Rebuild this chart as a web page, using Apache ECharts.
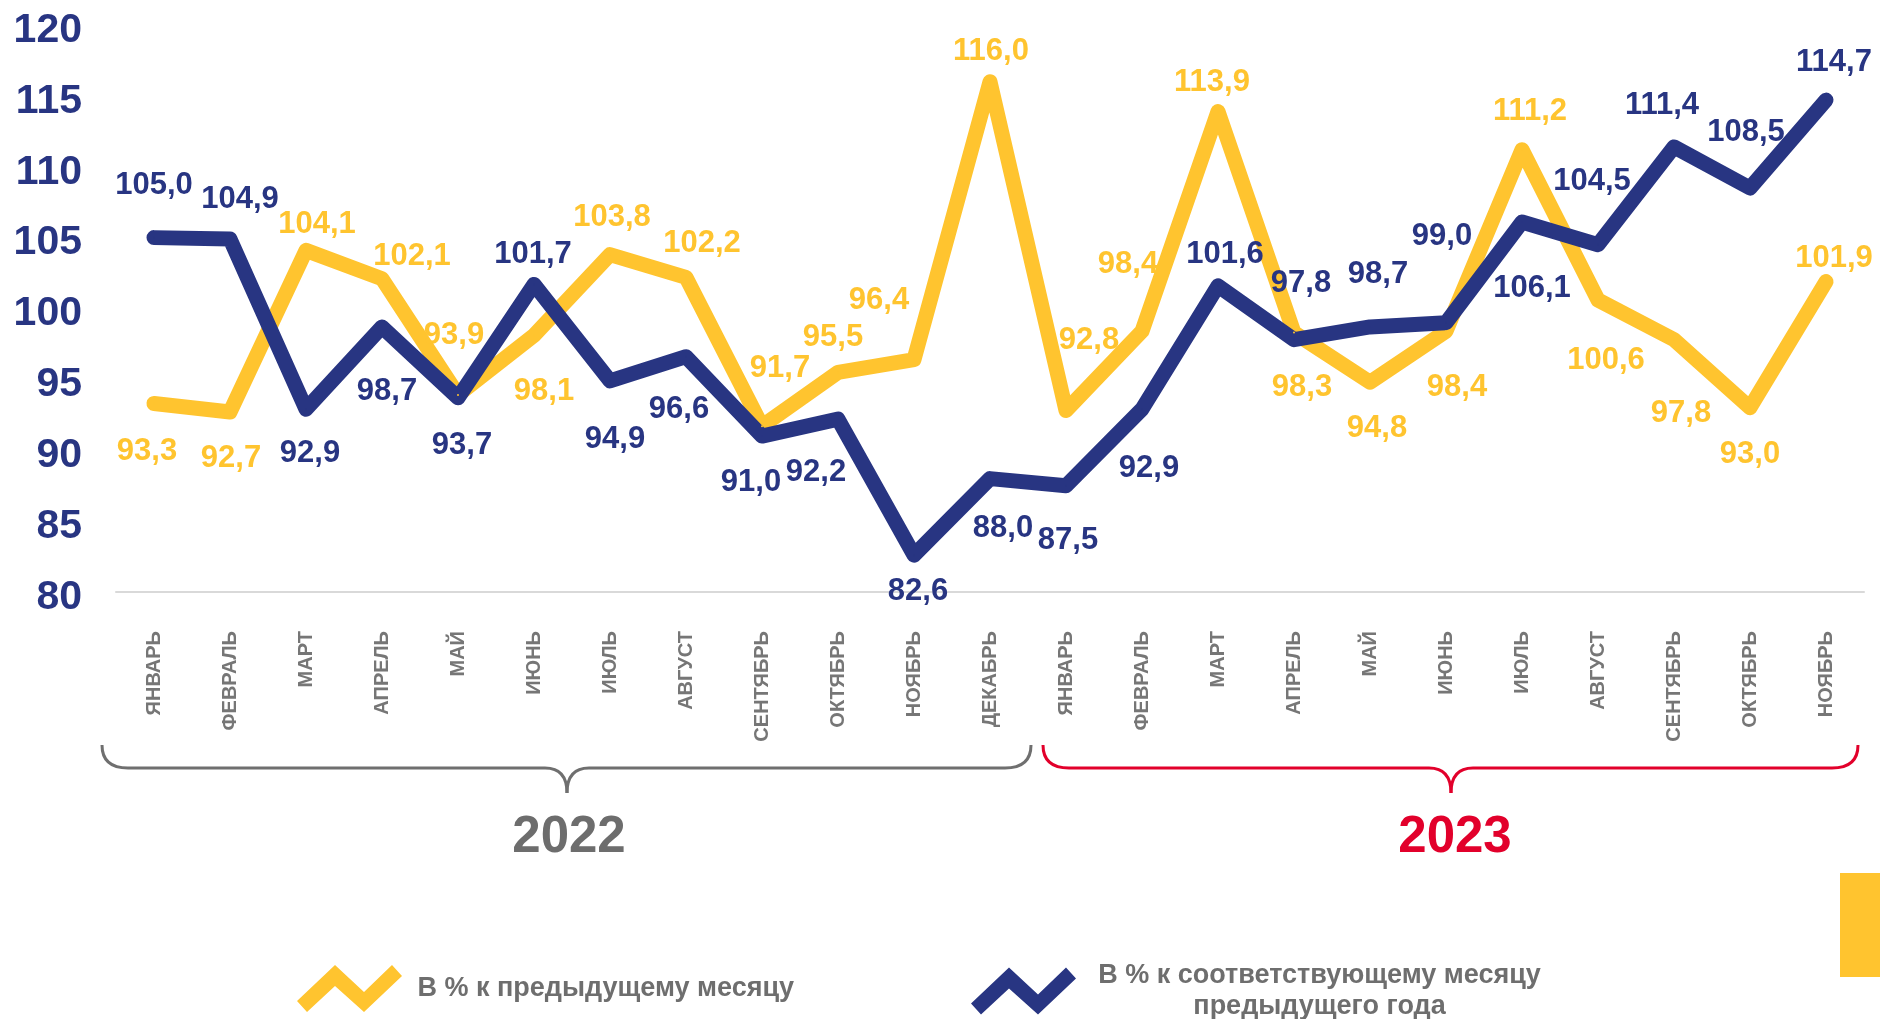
<!DOCTYPE html>
<html>
<head>
<meta charset="utf-8">
<title>Индексы</title>
<script src="https://cdn.jsdelivr.net/npm/echarts@6/dist/echarts.min.js"></script>
<style>
html, body { margin: 0; padding: 0; background: #fff; }
#indexChart { width: 1880px; height: 1019px; }
</style>
</head>
<body>
<div id="indexChart"></div>
<script>
// месяцы 2022-2023
var months = ['ЯНВАРЬ', 'ФЕВРАЛЬ', 'МАРТ', 'АПРЕЛЬ', 'МАЙ', 'ИЮНЬ', 'ИЮЛЬ', 'АВГУСТ', 'СЕНТЯБРЬ', 'ОКТЯБРЬ', 'НОЯБРЬ', 'ДЕКАБРЬ',
    'ЯНВАРЬ', 'ФЕВРАЛЬ', 'МАРТ', 'АПРЕЛЬ', 'МАЙ', 'ИЮНЬ', 'ИЮЛЬ', 'АВГУСТ', 'СЕНТЯБРЬ', 'ОКТЯБРЬ', 'НОЯБРЬ'];
var years = ['2022', '2023'];
var seriesNames = ['В % к предыдущему месяцу', 'В % к соответствующему месяцу предыдущего года'];

// в % к предыдущему месяцу
var prevMonth = [93.3, 92.7, 104.1, 102.1, 93.9, 98.1, 103.8, 102.2, 91.7, 95.5, 96.4, 116.0,
    92.8, 98.4, 113.9, 98.3, 94.8, 98.4, 111.2, 100.6, 97.8, 93.0, 101.9];
// в % к соответствующему месяцу предыдущего года
var prevYear = [105.0, 104.9, 92.9, 98.7, 93.7, 101.7, 94.9, 96.6, 91.0, 92.2, 82.6, 88.0,
    87.5, 92.9, 101.6, 97.8, 98.7, 99.0, 106.1, 104.5, 111.4, 108.5, 114.7];

// сдвиг подписей от точки
var prevMonthLabelOffset = [[-7, 48], [1, 46], [11, -26], [30, -22], [-4, -60], [10, 56], [2, -37], [16, -34], [18, -58], [-5, -35], [-35, -59], [1, -30],
    [23, -70], [-14, -67], [-6, -29], [8, 55], [7, 46], [11, 56], [8, -38], [8, 60], [7, 74], [0, 47], [8, -23]];
var prevYearLabelOffset = [[0, -52], [10, -40], [4, 44], [5, 65], [4, 48], [-1, -30], [5, 59], [-7, 53], [-11, 46], [-22, 53], [4, 36], [13, 50],
    [2, 55], [7, 59], [7, -31], [7, -56], [8, -52], [-4, -86], [10, 66], [-6, -63], [-12, -41], [-4, -56], [8, -38]];

var yellow = '#FFC42F';
var navy = '#283582';
var grey = '#6E6E6E';
var red = '#E2002B';
var font = '"Liberation Sans", Arial, sans-serif';
var zigzag = 'path://M0,36 L38,0 L67,27 L95,0 L105,11 L67,47 L38,21 L10,47 Z';

var indexChart = echarts.init(document.getElementById('indexChart'));

function fmt(v) {
    return v.toFixed(1).replace('.', ',');
}

function buildData(values, offsets) {
    var res = [];
    for (var i = 0; i < values.length; i++) {
        res.push({ value: values[i], label: { offset: offsets[i] } });
    }
    return res;
}

function lineSeries(name, color, values, offsets) {
    return {
        name: name,
        type: 'line',
        data: buildData(values, offsets),
        symbol: 'circle',
        symbolSize: 2,
        showSymbol: true,
        itemStyle: { color: color },
        lineStyle: { color: color, width: 15, cap: 'round', join: 'round' },
        label: {
            show: true,
            position: 'inside',
            color: color,
            fontFamily: font,
            fontWeight: 'bold',
            fontSize: 31,
            formatter: function (p) { return fmt(p.value); }
        },
        emphasis: { disabled: true },
        animation: false
    };
}

// фигурная скобка под месяцами года
function brace(x1, x2, tip, color) {
    var top = 745, mid = 768, low = 793, r = 26, t = 22;
    var st = { stroke: color, lineWidth: 3, fill: null };
    return {
        type: 'group',
        children: [
            { type: 'bezierCurve', shape: { x1: x1, y1: top, cpx1: x1, cpy1: mid, x2: x1 + r, y2: mid }, style: st },
            { type: 'line', shape: { x1: x1 + r, y1: mid, x2: tip - t, y2: mid }, style: st },
            { type: 'bezierCurve', shape: { x1: tip - t, y1: mid, cpx1: tip, cpy1: mid, x2: tip, y2: low }, style: st },
            { type: 'bezierCurve', shape: { x1: tip, y1: low, cpx1: tip, cpy1: mid, x2: tip + t, y2: mid }, style: st },
            { type: 'line', shape: { x1: tip + t, y1: mid, x2: x2 - r, y2: mid }, style: st },
            { type: 'bezierCurve', shape: { x1: x2 - r, y1: mid, cpx1: x2, cpy1: mid, x2: x2, y2: top }, style: st }
        ]
    };
}

function yearText(x, text, color) {
    return {
        type: 'text',
        x: x,
        y: 838,
        style: {
            text: text,
            fill: color,
            font: 'bold 51px ' + font,
            align: 'center',
            verticalAlign: 'middle'
        }
    };
}

var option = {
    animation: false,
    grid: { left: 116, top: 25, width: 1748, height: 567 },
    legend: [{
        data: [seriesNames[0]],
        left: 292,
        top: 960,
        icon: zigzag,
        itemWidth: 106,
        itemHeight: 47,
        selectedMode: false,
        itemStyle: { borderWidth: 0 },
        textStyle: { color: grey, fontFamily: font, fontWeight: 'bold', fontSize: 27, padding: [0, 0, 0, 10] }
    }, {
        data: [seriesNames[1]],
        left: 966,
        top: 957,
        icon: zigzag,
        itemWidth: 106,
        itemHeight: 47,
        selectedMode: false,
        itemStyle: { borderWidth: 0 },
        formatter: function () {
            return '{a|В % к соответствующему месяцу}\n{a|предыдущего года}';
        },
        textStyle: {
            color: grey, fontFamily: font, fontWeight: 'bold', fontSize: 27,
            rich: { a: { width: 476, align: 'center', lineHeight: 31, color: grey, fontFamily: font, fontWeight: 'bold', fontSize: 27 } }
        }
    }],
    xAxis: {
        type: 'category',
        data: months,
        boundaryGap: true,
        axisLine: { lineStyle: { color: '#D9D9D9', width: 2 } },
        axisTick: { show: false },
        axisLabel: {
            interval: 0,
            rotate: 90,
            margin: 39,
            color: '#767676',
            fontFamily: font,
            fontWeight: 'bold',
            fontSize: 20
        }
    },
    yAxis: {
        type: 'value',
        min: 80,
        max: 120,
        interval: 5,
        splitLine: { show: false },
        axisLine: { show: false },
        axisTick: { show: false },
        axisLabel: {
            margin: 34,
            formatter: function (v) { return '{v|' + v + '}'; },
            rich: {
                v: { padding: [11, 0, 0, 0], color: navy, fontFamily: font, fontWeight: 'bold', fontSize: 41 }
            },
            color: navy,
            fontFamily: font,
            fontWeight: 'bold',
            fontSize: 41
        }
    },
    graphic: [
        brace(102, 1031, 567, '#6F6F6F'),
        brace(1043, 1858, 1451, red),
        yearText(569, years[0], '#6D6D6D'),
        yearText(1455, years[1], red),
        { type: 'rect', shape: { x: 1840, y: 873, width: 40, height: 104 }, style: { fill: yellow } }
    ],
    series: [
        lineSeries(seriesNames[0], yellow, prevMonth, prevMonthLabelOffset),
        lineSeries(seriesNames[1], navy, prevYear, prevYearLabelOffset)
    ]
};

indexChart.setOption(option);
</script>
</body>
</html>
